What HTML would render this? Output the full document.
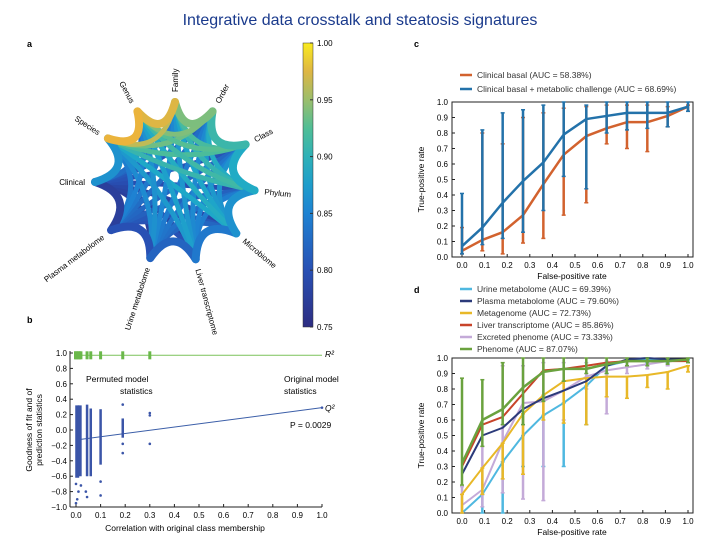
<!DOCTYPE html>
<html><head><meta charset="utf-8">
<style>
body{margin:0;background:#fff;}
svg{display:block;font-family:"Liberation Sans",sans-serif;}
</style></head>
<body>
<svg id="fig" width="720" height="540" viewBox="0 0 720 540">
<text x="360" y="25" text-anchor="middle" font-size="16" fill="#1a3a8c">Integrative data crosstalk and steatosis signatures</text>
<text x="27" y="47" font-size="9" font-weight="bold">a</text>
<text x="27" y="323" font-size="9" font-weight="bold">b</text>
<text x="414" y="47" font-size="9" font-weight="bold">c</text>
<text x="414" y="293" font-size="9" font-weight="bold">d</text>
<g id="pa"></g>
<g id="pb"></g>
<g id="pc"></g>
<g id="pd"></g>
</svg>
<script>
const NS="http://www.w3.org/2000/svg";
function mk(p,t,a,txt){const e=document.createElementNS(NS,t);for(const k in a)e.setAttribute(k,a[k]);if(txt!==undefined)e.textContent=txt;p.appendChild(e);return e;}

// ---------- Panel c data ----------
const cFpr=[0,0.09,0.18,0.27,0.36,0.45,0.55,0.64,0.73,0.82,0.91,1.0];
const cBlue=[0.07,0.19,0.35,0.49,0.61,0.79,0.89,0.91,0.93,0.93,0.93,0.97];
const cBlueLo=[0.02,0.08,0.12,0.16,0.30,0.52,0.44,0.80,0.82,0.83,0.84,0.94];
const cBlueHi=[0.41,0.82,0.93,0.95,0.98,1.0,0.98,1.0,1.0,1.0,1.0,1.0];
const cOrange=[0.04,0.11,0.16,0.27,0.47,0.66,0.78,0.83,0.87,0.87,0.91,0.97];
const cOrangeLo=[0.02,0.04,0.02,0.09,0.12,0.27,0.35,0.73,0.70,0.68,0.84,0.94];
const cOrangeHi=[0.19,0.80,0.73,0.90,0.93,0.96,0.97,0.98,0.98,0.98,0.97,0.98];
const rocTicks=[0,0.1,0.2,0.3,0.4,0.5,0.6,0.7,0.8,0.9,1.0];

// ---------- Panel d data ----------
const dNames=["Urine metabolome (AUC = 69.39%)","Plasma metabolome (AUC = 79.60%)","Metagenome (AUC = 72.73%)","Liver transcriptome (AUC = 85.86%)","Excreted phenome (AUC = 73.33%)","Phenome (AUC = 87.07%)"];
const dColors=["#4fb8e0","#2b3a7a","#e8b828","#c8442a","#c4aad8","#6aa23e"];
const dUrine=[0.0,0.12,0.33,0.50,0.63,0.71,0.82,0.95,0.98,0.99,0.99,0.99];
const dPlasma=[0.25,0.50,0.55,0.67,0.74,0.79,0.85,0.95,0.99,1.0,0.99,0.99];
const dMeta=[0.12,0.29,0.45,0.64,0.76,0.85,0.87,0.88,0.88,0.89,0.91,0.95];
const dLiver=[0.30,0.57,0.62,0.77,0.92,0.93,0.95,0.97,0.98,0.98,0.98,0.98];
const dExcr=[0.05,0.15,0.46,0.71,0.72,0.79,0.88,0.92,0.94,0.96,0.98,0.99];
const dPhen=[0.32,0.60,0.67,0.81,0.91,0.93,0.93,0.96,0.98,0.98,0.98,0.99];
const dUrineLo=[0.0,0.0,0.0,0.3,0.3,0.3,0.57,0.9,0.95,0.97,0.97,0.97];
const dExcrLo=[0.0,0.04,0.13,0.09,0.08,0.6,0.8,0.64,0.9,0.93,0.95,0.97];
const dExcrHi=[0.17,0.43,0.95,0.95,0.97,0.97,0.97,0.98,1.0,1.0,1.0,1.0];
const dMetaLo=[0.0,0.12,0.22,0.25,0.6,0.58,0.57,0.75,0.74,0.81,0.8,0.91];
const dPhenLo=[0.18,0.43,0.57,0.57,0.72,0.85,0.9,0.9,0.95,0.95,0.96,0.97];
const dPhenHi=[0.87,0.86,0.97,1.0,1.0,1.0,1.0,1.0,1.0,1.0,1.0,1.0];

// ---------- Panel b data ----------
const bColX=[0.005,0.015,0.045,0.06,0.1,0.19];
const bColLo=[-0.62,-0.6,-0.6,-0.6,-0.45,-0.1];
const bColHi=[0.32,0.32,0.33,0.28,0.27,0.15];
const bOutX=[0.0,0.01,0.02,0.04,0.045,0.1,0.1,0.19,0.19,0.19,0.3,0.3,0.3,0.0,0.005];
const bOutY=[-0.95,-0.8,-0.72,-0.8,-0.87,-0.67,-0.85,0.33,-0.18,-0.3,0.22,0.19,-0.18,-0.7,-0.9];
const bR2X=[0.0,0.01,0.02,0.045,0.06,0.1,0.19,0.3];
const bR2Y=[0.97,0.97,0.97,0.97,0.97,0.97,0.97,0.97];
const bQ2Line=[-0.13,0.29];
const bR2Line=[0.97,0.97];
const bXTicks=[0,0.1,0.2,0.3,0.4,0.5,0.6,0.7,0.8,0.9,1.0];
const bYTicks=[-1.0,-0.8,-0.6,-0.4,-0.2,0.0,0.2,0.4,0.6,0.8,1.0];

// ---------- Panel a data ----------
const aNodes=["Clinical","Species","Genus","Family","Order","Class","Phylum","Microbiome","Liver transcriptome","Urine metabolome","Plasma metabolome"];
const aNodeVal=[0.76,0.97,0.99,0.96,0.92,0.90,0.88,0.85,0.83,0.81,0.79];
const cbTicks=[0.75,0.80,0.85,0.90,0.95,1.00];

function parula(v){ // 0.75..1
  const t=(v-0.75)/0.25;
  const stops=[[0,[45,45,130]],[0.2,[40,80,180]],[0.4,[30,130,210]],[0.55,[30,170,200]],[0.7,[80,190,150]],[0.82,[170,190,100]],[0.92,[235,180,60]],[1,[250,235,30]]];
  const tt=Math.max(0,Math.min(1,t));
  for(let i=1;i<stops.length;i++){if(tt<=stops[i][0]){const a=stops[i-1],b=stops[i];const f=(tt-a[0])/(b[0]-a[0]);const c=a[1].map((x,j)=>Math.round(x+(b[1][j]-x)*f));return `rgb(${c})`;}}
  return "rgb(250,235,30)";
}

// ---------- ROC generic ----------
function rocAxes(g,yTop,yBot,name){
  const X=v=>462+v*226, Y=v=>yBot-v*(yBot-yTop);
  mk(g,"rect",{x:452,y:yTop,width:241,height:yBot-yTop,fill:"none",stroke:"#222","stroke-width":1,});
  rocTicks.forEach(t=>{
    mk(g,"line",{x1:X(t),x2:X(t),y1:yBot,y2:yBot-3,stroke:"#222"});
    const tx=mk(g,"text",{x:X(t),y:yBot+11,"font-size":8,"text-anchor":"middle"},t.toFixed(1));
    
    
    mk(g,"line",{x1:452,x2:455,y1:Y(t),y2:Y(t),stroke:"#222"});
    const ty=mk(g,"text",{x:448,y:Y(t)+3,"font-size":8,"text-anchor":"end"},t.toFixed(1));
    
    
  });
  const xl=mk(g,"text",{x:572,y:yBot+22,"font-size":8.5,"text-anchor":"middle"},"False-positive rate");
  
  
  const yc=(yTop+yBot)/2;
  const yl=mk(g,"text",{x:424,y:yc,"font-size":8.5,"text-anchor":"middle",transform:`rotate(-90 424 ${yc})`},"True-positive rate");
  
  
  return [X,Y];
}
function series(g,X,Y,vals,lo,hi,color,w,name){
  if(lo){vals.forEach((v,i)=>{const l=lo[i],h=hi?hi[i]:v;
    const e=mk(g,"line",{x1:X(cFpr[i]),x2:X(cFpr[i]),y1:Y(l),y2:Y(h),stroke:color,"stroke-width":2.5});
    
    
    mk(g,"line",{x1:X(cFpr[i])-2,x2:X(cFpr[i])+2,y1:Y(l),y2:Y(l),stroke:color,"stroke-width":1.5});
    mk(g,"line",{x1:X(cFpr[i])-2,x2:X(cFpr[i])+2,y1:Y(h),y2:Y(h),stroke:color,"stroke-width":1.5});
  });}
  const p=mk(g,"polyline",{points:vals.map((v,i)=>X(cFpr[i])+","+Y(v)).join(" "),fill:"none",stroke:color,"stroke-width":w,"stroke-linejoin":"round"});
  
  
}
function legend(g,x,y,color,label,name){
  mk(g,"line",{x1:x,x2:x+12,y1:y,y2:y,stroke:color,"stroke-width":2.5});
  const t=mk(g,"text",{x:x+17,y:y+3,"font-size":8.5,fill:"#333"},label);
  
  
}

// Panel c
(function(){
  const g=document.getElementById("pc");
  const [X,Y]=rocAxes(g,102,257,"c");
  series(g,X,Y,cOrange,cOrangeLo,cOrangeHi,"#d2622e",2.5,"clinical-basal");
  series(g,X,Y,cBlue,cBlueLo,cBlueHi,"#2372aa",2.5,"clinical-metabolic");
  legend(g,460,75,"#d2622e","Clinical basal (AUC = 58.38%)","legend-clinical-basal");
  legend(g,460,89,"#2372aa","Clinical basal + metabolic challenge (AUC = 68.69%)","legend-clinical-metabolic");
})();

// Panel d
(function(){
  const g=document.getElementById("pd");
  const [X,Y]=rocAxes(g,358,513,"d");
  series(g,X,Y,dUrine,dUrineLo,null,dColors[0],2,"urine-metabolome");
  series(g,X,Y,dExcr,dExcrLo,dExcrHi,dColors[4],2,"excreted-phenome");
  series(g,X,Y,dMeta,dMetaLo,null,dColors[2],2,"metagenome");
  series(g,X,Y,dPlasma,null,null,dColors[1],2,"plasma-metabolome");
  series(g,X,Y,dLiver,null,null,dColors[3],2,"liver-transcriptome");
  series(g,X,Y,dPhen,dPhenLo,dPhenHi,dColors[5],2.5,"phenome");
  dNames.forEach((n,i)=>legend(g,460,289+i*12,dColors[i],n,"legend-"+i));
})();

// Panel b
(function(){
  const g=document.getElementById("pb");
  const X=v=>76+v*246, Y=v=>430-v*77;
  mk(g,"line",{x1:70,x2:70,y1:Y(1.0)-2,y2:Y(-1.0),stroke:"#222"});
  mk(g,"line",{x1:70,x2:322,y1:Y(-1.0),y2:Y(-1.0),stroke:"#222"});
  bXTicks.forEach(t=>{mk(g,"line",{x1:X(t),x2:X(t),y1:Y(-1),y2:Y(-1)-3,stroke:"#222"});
    const tx=mk(g,"text",{x:X(t),y:Y(-1)+11,"font-size":8,"text-anchor":"middle"},t.toFixed(1));
    
    });
  bYTicks.forEach(t=>{mk(g,"line",{x1:70,x2:73,y1:Y(t),y2:Y(t),stroke:"#222"});
    const ty=mk(g,"text",{x:67,y:Y(t)+3,"font-size":8,"text-anchor":"end"},(t<0?"\u2212":"")+Math.abs(t).toFixed(1));
    
    });
  const xl=mk(g,"text",{x:185,y:531,"font-size":8.5,"text-anchor":"middle"},"Correlation with original class membership");
  
  
  const yl=mk(g,"text",{"font-size":8.5,"text-anchor":"middle",transform:"translate(32 430) rotate(-90)"});
  
  
  mk(yl,"tspan",{x:0,y:0},"Goodness of fit and of");
  mk(yl,"tspan",{x:0,y:10},"prediction statistics");
  const r=mk(g,"line",{x1:X(0),x2:X(1),y1:Y(bR2Line[0]),y2:Y(bR2Line[1]),stroke:"#7cc25a","stroke-width":1});
  
  
  const q=mk(g,"line",{x1:X(0),x2:X(1),y1:Y(bQ2Line[0]),y2:Y(bQ2Line[1]),stroke:"#3b5ea8","stroke-width":1});
  
  
  bColX.forEach((x,i)=>{const c=mk(g,"line",{x1:X(x),x2:X(x),y1:Y(bColLo[i]),y2:Y(bColHi[i]),stroke:"#3b55a8","stroke-width":i<2?4:2.5});
    
    });
  bOutX.forEach((x,i)=>{const c=mk(g,"circle",{cx:X(x),cy:Y(bOutY[i]),r:1.3,fill:"#3b55a8"});
    
    });
  bR2X.forEach((x,i)=>{const c=mk(g,"rect",{x:X(x)-1.5,y:Y(bR2Y[i])-4,width:3,height:8,fill:"#6ab84a"});
    
    });
  mk(g,"rect",{x:X(0)-2,y:Y(0.97)-4,width:7,height:8,fill:"#6ab84a"});
  mk(g,"circle",{cx:X(1),cy:Y(bQ2Line[1]),r:1.3,fill:"#3b55a8"});
  const t1=mk(g,"text",{x:86,y:382,"font-size":8.5},"Permuted model");
  
  mk(g,"text",{x:120,y:394,"font-size":8.5},"statistics");
  const t2=mk(g,"text",{x:284,y:382,"font-size":8.5},"Original model");
  
  mk(g,"text",{x:284,y:394,"font-size":8.5},"statistics");
  mk(g,"text",{x:325,y:357,"font-size":8.5,"font-style":"italic"},"R²");
  mk(g,"text",{x:325,y:411,"font-size":8.5,"font-style":"italic"},"Q²");
  const pv=mk(g,"text",{x:290,y:428,"font-size":8.5},"P = 0.0029");
  
})();

// Panel a
(function(){
  const g=document.getElementById("pa");
  const cx=175,cy=182,R=80;
  const ang=[180,147,118,90,62,28,-6,-40,-75,-108,-143];
  const pts=ang.map(a=>[cx+R*Math.cos(a*Math.PI/180),cy-R*Math.sin(a*Math.PI/180)]);
  const pairs=[];
  for(let i=0;i<aNodes.length;i++)for(let j=i+1;j<aNodes.length;j++)pairs.push([i,j]);
  // draw inner chords first, adjacent petals last; lower values first
  pairs.sort((a,b)=>{
    const adjA=(a[1]-a[0]===1||a[1]-a[0]===10)?1:0, adjB=(b[1]-b[0]===1||b[1]-b[0]===10)?1:0;
    if(adjA!==adjB) return adjA-adjB;
    return (aNodeVal[a[0]]+aNodeVal[a[1]])-(aNodeVal[b[0]]+aNodeVal[b[1]]);});
  pairs.forEach(([i,j])=>{
    const adj=(j-i===1||j-i===10);
    const v=adj?(aNodeVal[i]+aNodeVal[j])/2:Math.min(aNodeVal[i],aNodeVal[j])*0.7+Math.max(aNodeVal[i],aNodeVal[j])*0.3;
    const mx=(pts[i][0]+pts[j][0])/2,my=(pts[i][1]+pts[j][1])/2;
    const k=adj?0.55:0.35;
    const qx=cx+(mx-cx)*k,qy=cy+(my-cy)*k;
    const p=mk(g,"path",{d:`M${pts[i][0]},${pts[i][1]} Q${qx},${qy} ${pts[j][0]},${pts[j][1]}`,fill:"none",stroke:parula(v),"stroke-width":adj?8:5,"stroke-linecap":"round"});
    
    
  });
  pts.forEach((p,i)=>{
    const a=ang[i];const lx=cx+(R+10)*Math.cos(a*Math.PI/180),ly=cy-(R+10)*Math.sin(a*Math.PI/180);
    let rot=-a; if(a>90||a<-90) rot=180-a;
    const anchor=(a>90||a<-90)?"end":"start";
    const t=mk(g,"text",{x:lx,y:ly+3,"font-size":8,"text-anchor":anchor,transform:i===0?"":`rotate(${rot} ${lx} ${ly})`},aNodes[i]);
    
    
  });
  const defs=mk(g,"defs",{});
  const lg=mk(defs,"linearGradient",{id:"cbg",x1:0,y1:1,x2:0,y2:0});
  for(let s=0;s<=10;s++){mk(lg,"stop",{offset:s/10,"stop-color":parula(0.75+0.025*s)});}
  const cb=mk(g,"rect",{x:303,y:43,width:10,height:284,fill:"url(#cbg)",stroke:"#333","stroke-width":0.5});
  
  
  cbTicks.forEach(t=>{const y=327-(t-0.75)/0.25*284;
    mk(g,"line",{x1:310,x2:313,y1:y,y2:y,stroke:"#333"});
    const tx=mk(g,"text",{x:317,y:y+3,"font-size":8},t.toFixed(2));
    
    });
})();
</script>
</body></html>
